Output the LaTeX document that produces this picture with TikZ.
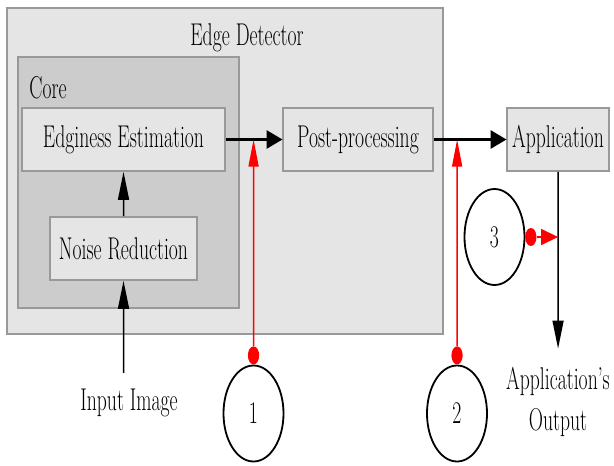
\documentclass[tikz,border=0pt]{standalone}
\usepackage{tikz}
\usetikzlibrary{arrows.meta}

\begin{document}
\begin{tikzpicture}[x=1.6pt,y=-1pt,xscale=0.625,
font=\fontsize{31.5}{41}\selectfont,
every node/.style={transform shape},
block/.style={rectangle,draw=gray!80,line width=1.6pt,fill=gray!20,minimum height=63pt,inner sep=2pt},
frame/.style={rectangle,draw=gray!80,line width=1.2pt,inner sep=0pt},
probe/.style={circle,draw=black,line width=1.8pt,minimum size=96pt,inner sep=0pt},
dot/.style={circle,fill=red,minimum size=18pt,inner sep=0pt},
flow/.style={-{Triangle[length=16pt,width=18pt]},line width=3pt},
thinflow/.style={-{Triangle[length=28pt,width=11pt]},line width=1.5pt},
tap/.style={-{Triangle[length=27pt,width=10pt]},red,line width=1.4pt},
taph/.style={-{Triangle[length=17pt,width=16pt]},red,line width=1.4pt},
]

\useasboundingbox (0,0) rectangle (614,466);
%\draw[help lines,step=50] (0,0) grid (614,466);

\node [frame,fill=gray!20,minimum width=697.6pt,minimum height=326pt] (detector) at (225,171){};
\node [frame,fill=gray!40,line width=1.8pt,minimum width=353.6pt,minimum height=251pt] (core) at (128.5,182.5){};

\node (detlabel) at (247,38){Edge Detector};
\node [anchor=west,inner sep=2pt] (corelabel) at (28,88){Core};

\node [block,minimum width=324.8pt] (est) at (123.5,139.5){Edginess Estimation};
\node [block,minimum width=235.2pt] (noise) at (123.5,248.5){Noise Reduction};
\node [block,minimum width=240pt] (post) at (358,139.5){Post-processing};
\node [block,minimum width=163.2pt] (app) at (558,139.5){Application};

\node [inner ysep=16pt] (input) at (129,403){Input Image};
\node [align=center,inner ysep=18pt] (out) at (558,401.5){Application's\\Output};

\node [probe] (c1) at (253.5,413.5){1};
\node [probe] (c2) at (457,413.5){2};
\node [probe] (c3) at (494.5,237){3};

\node [dot,anchor=south] (d1) at (c1.north){};
\node [dot,anchor=south] (d2) at (c2.north){};
\node [dot,anchor=west] (d3) at (c3.east){};

\coordinate (j1) at (d1 |- est);
\coordinate (j2) at (d2 |- post);
\coordinate (j3) at (app |- d3);

\draw [thinflow] (noise |- input.north) -- (noise);
\draw [thinflow] (noise) -- (est);
\draw [flow] (est) -- (post);
\draw [flow] (post) -- (app);
\draw [thinflow] (app) -- (out);

\draw [tap] (d1) -- (j1);
\draw [tap] (d2) -- (j2);
\draw [taph] (d3) -- (j3);
\end{tikzpicture}
\end{document}
